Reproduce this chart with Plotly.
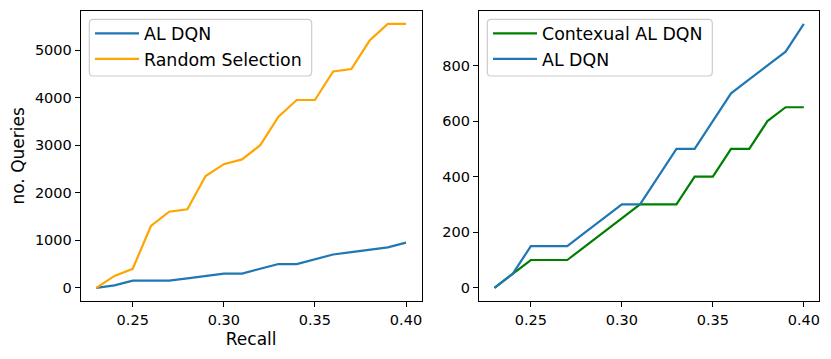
import plotly.graph_objects as go

# recall values shared by all series
recall = [0.23, 0.24, 0.25, 0.26, 0.27, 0.28, 0.29, 0.30, 0.31, 0.32,
          0.33, 0.34, 0.35, 0.36, 0.37, 0.38, 0.39, 0.40]

al_dqn = [0, 50, 150, 150, 150, 200, 250, 300, 300, 400,
          500, 500, 600, 700, 750, 800, 850, 950]
random_sel = [0, 250, 400, 1300, 1600, 1650, 2350, 2600, 2700, 3000,
              3600, 3950, 3950, 4550, 4600, 5200, 5550, 5550]
ctx_al_dqn = [0, 50, 100, 100, 100, 150, 200, 250, 300, 300,
              300, 400, 400, 500, 500, 600, 650, 650]

x_ticks = [0.25, 0.30, 0.35, 0.40]
left_ticks = [0, 1000, 2000, 3000, 4000, 5000]
right_ticks = [0, 200, 400, 600, 800]

BLUE = '#1f77b4'
ORANGE = '#ffa500'
GREEN = '#008000'
FONT = 'DejaVu Sans'
W, H = 831, 359


def pad(vals):
    lo, hi = min(vals), max(vals)
    m = (hi - lo) * 0.05
    return [lo - m, hi + m]


fig = go.Figure()

fig.add_trace(go.Scatter(x=recall, y=al_dqn, mode='lines', name='AL DQN',
                         line=dict(color=BLUE, width=2.2), legend='legend'))
fig.add_trace(go.Scatter(x=recall, y=random_sel, mode='lines', name='Random Selection',
                         line=dict(color=ORANGE, width=2.2), legend='legend'))

fig.add_trace(go.Scatter(x=recall, y=ctx_al_dqn, mode='lines', name='Contexual AL DQN',
                         line=dict(color=GREEN, width=2.2), xaxis='x2', yaxis='y2',
                         legend='legend2'))
fig.add_trace(go.Scatter(x=recall, y=al_dqn, mode='lines', name='AL DQN',
                         line=dict(color=BLUE, width=2.2), xaxis='x2', yaxis='y2',
                         legend='legend2'))

ax = dict(showline=True, mirror=True, linecolor='black', linewidth=1.2,
          ticks='outside', ticklen=5, tickwidth=1.2, tickcolor='black',
          showgrid=False, zeroline=False, automargin=False,
          tickfont=dict(family=FONT, size=14.5, color='black'))

y0, y1 = 1 - 301 / H, 1 - 10.7 / H

fig.update_layout(
    width=W, height=H,
    margin=dict(l=0, r=0, t=0, b=0),
    plot_bgcolor='white', paper_bgcolor='white',
    font=dict(family=FONT, color='black'),
    xaxis=dict(ax, domain=[80.8 / W, 421.5 / W], range=pad(recall),
               tickvals=x_ticks, tickformat='.2f',
               title=dict(text='Recall', font=dict(size=17), standoff=6)),
    yaxis=dict(ax, domain=[y0, y1], range=pad(random_sel), tickvals=left_ticks,
               title=dict(text='no. Queries', font=dict(size=17), standoff=5)),
    xaxis2=dict(ax, domain=[479 / W, 819.3 / W], range=pad(recall),
                tickvals=x_ticks, tickformat='.2f', anchor='y2'),
    yaxis2=dict(ax, domain=[y0, y1], range=pad(al_dqn), tickvals=right_ticks,
                anchor='x2'),
    legend=dict(x=90 / W, y=1 - 15.5 / H, xanchor='left', yanchor='top',
                itemwidth=44, bgcolor='rgba(0,0,0,0)', font=dict(size=17.4)),
    legend2=dict(x=488 / W, y=1 - 15.5 / H, xanchor='left', yanchor='top',
                 itemwidth=44, bgcolor='rgba(0,0,0,0)', font=dict(size=17.4)),
)


def rounded_box(x0, y0, x1, y1, r=4):
    # pixel coords (top-left origin) -> paper path
    px = lambda v: v / W
    py = lambda v: 1 - v / H
    p = (f'M {px(x0 + r)},{py(y0)} L {px(x1 - r)},{py(y0)} '
         f'Q {px(x1)},{py(y0)} {px(x1)},{py(y0 + r)} '
         f'L {px(x1)},{py(y1 - r)} Q {px(x1)},{py(y1)} {px(x1 - r)},{py(y1)} '
         f'L {px(x0 + r)},{py(y1)} Q {px(x0)},{py(y1)} {px(x0)},{py(y1 - r)} '
         f'L {px(x0)},{py(y0 + r)} Q {px(x0)},{py(y0)} {px(x0 + r)},{py(y0)} Z')
    return dict(type='path', path=p, xref='paper', yref='paper',
                line=dict(color='#cccccc', width=1.2),
                fillcolor='rgba(255,255,255,0.8)', layer='above')


fig.update_layout(shapes=[rounded_box(89.3, 19.3, 311.7, 76),
                          rounded_box(487.3, 19.3, 712.3, 76)])

fig.write_html('out.html', config={'displayModeBar': False},
               post_script="document.body.style.margin='0';")
